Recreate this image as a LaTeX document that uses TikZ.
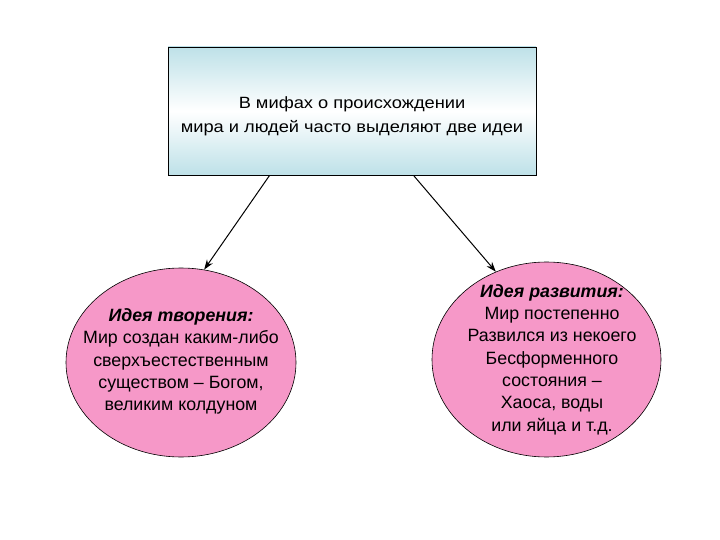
\documentclass[tikz,border=0pt]{standalone}
\usepackage{fontspec}
\setmainfont{Liberation Sans}
\newfontfamily\widefont[FakeStretch=1.12]{Liberation Sans}
\usetikzlibrary{shapes.geometric,arrows.meta,calc}
\definecolor{boxblue}{RGB}{190,225,232}
\definecolor{ellpink}{RGB}{246,152,200}
\tikzset{
  topbox/.style={draw=black, line width=0.9pt, minimum width=368pt, minimum height=128pt,
    top color=boxblue, bottom color=boxblue, middle color=white, shading angle=0, inner sep=0pt},
  toptxt/.style={align=center, font=\widefont\fontsize{16.3}{24}\selectfont, inner sep=0pt},
  idea/.style={ellipse, draw=black, line width=0.6pt, fill=ellpink, inner sep=0pt},
  ideatxt/.style={align=center, font=\fontsize{17.8}{22.3}\selectfont, inner sep=0pt},
  link/.style={-{Stealth[length=10pt,width=7pt]}, line width=1pt, black}
}
\begin{document}
\begin{tikzpicture}[x=1pt,y=-1pt]
\useasboundingbox (0,0) rectangle (720,540);
\node[topbox] (top) at (352,111) {};
\node[toptxt] (toptext) at (352,116) {В мифах о происхождении\\мира и людей часто выделяют две идеи};
\node[idea, minimum width=230pt, minimum height=189pt] (left) at (181,362.5) {};
\node[ideatxt] (lefttext) at (181,361.5)
  {\textbf{\textit{Идея творения:}}\\Мир создан каким-либо\\сверхъестественным\\существом – Богом,\\великим колдуном};
\node[idea, minimum width=229pt, minimum height=195pt] (right) at (546.5,359.5) {};
\node[ideatxt] (righttext) at (552,359.5)
  {\textbf{\textit{Идея развития:}}\\Мир постепенно\\Развился из некоего\\Бесформенного\\состояния –\\Хаоса, воды\\или яйца и т.д.};
\draw[link] ($(top.south west)+(102,0)$) -- (left.76);
\draw[link] ($(top.south west)+(246,0)$) -- (right.120);
\end{tikzpicture}
\end{document}
